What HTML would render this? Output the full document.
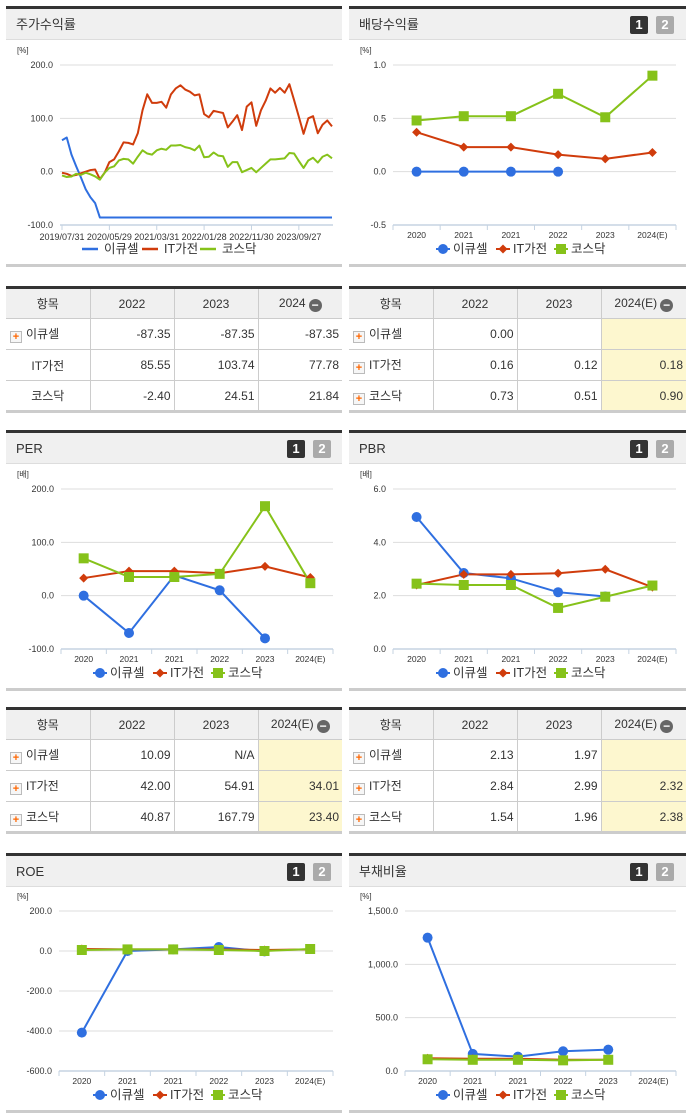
<!DOCTYPE html>
<html><head><meta charset="utf-8">
<style>
*{margin:0;padding:0;box-sizing:border-box}
body{width:691px;height:1115px;background:#fff;position:relative;overflow:hidden;font-family:"Liberation Sans","Noto Sans CJK KR",sans-serif;color:#333}
.panel{position:absolute;border-top:3px solid #333}
.hdr{height:31px;background:#f0f0f0;border-bottom:1px solid #ddd;font-size:13px;line-height:31px;padding-left:10px;position:relative;color:#333}
.b1,.b2{position:absolute;top:7px;width:18px;height:18px;font-size:13px;font-weight:bold;color:#fff;text-align:center;line-height:18px;border-radius:2px}
.b1{background:#333}.b2{background:#aaa}
.foot{position:absolute;height:3px;background:#ccc}
table{position:absolute;border-collapse:collapse;font-size:12px;table-layout:fixed;border-top:3px solid #333;border-bottom:3px solid #ccc}
td,th{border:1px solid #ccc;height:31px;font-weight:normal;white-space:nowrap;vertical-align:middle}
tr td:first-child,tr th:first-child{border-left:none}
tr td:last-child,tr th:last-child{border-right:none}
th{background:#f0f0f0;text-align:center;height:31px}
td{text-align:right;padding-right:3px}
td.n{text-align:left;padding-left:4px}
td.c{text-align:center;padding:0}
td.y{background:#fdf7cf}
.pl{display:inline-block;width:12px;height:12px;border:1px solid #bbb;background:#f6f6f6;color:#f60;font-size:11px;font-weight:bold;line-height:10px;text-align:center;vertical-align:-2px;margin-right:4px}
.mi{display:inline-block;width:13px;height:13px;border-radius:50%;background:#666;color:#fff;font-size:12px;line-height:12px;text-align:center;vertical-align:-2px;margin-left:3px;font-weight:bold}
svg text{font-family:"Liberation Sans","Noto Sans CJK KR",sans-serif}
</style></head><body>

<div class="panel" style="left:6px;top:6px;width:336px"><div class="hdr">주가수익률</div></div>
<div class="panel" style="left:349px;top:6px;width:337px"><div class="hdr">배당수익률<span class="b1" style="left:281px">1</span><span class="b2" style="left:307px">2</span></div></div>
<div class="foot" style="left:6px;top:264px;width:336px"></div><div class="foot" style="left:349px;top:264px;width:337px"></div>

<table style="left:6px;top:286px;width:336px">
<colgroup><col style="width:84px"><col style="width:84px"><col style="width:84px"><col style="width:84px"></colgroup>
<tr><th>항목</th><th>2022</th><th>2023</th><th>2024<span class="mi">−</span></th></tr>
<tr><td class="n"><span class="pl">+</span>이큐셀</td><td>-87.35</td><td>-87.35</td><td>-87.35</td></tr>
<tr><td class="c">IT가전</td><td>85.55</td><td>103.74</td><td>77.78</td></tr>
<tr><td class="c">코스닥</td><td>-2.40</td><td>24.51</td><td>21.84</td></tr>
</table>
<table style="left:349px;top:286px;width:337px">
<colgroup><col style="width:84px"><col style="width:84px"><col style="width:84px"><col style="width:85px"></colgroup>
<tr><th>항목</th><th>2022</th><th>2023</th><th>2024(E)<span class="mi">−</span></th></tr>
<tr><td class="n"><span class="pl">+</span>이큐셀</td><td>0.00</td><td></td><td class="y"></td></tr>
<tr><td class="n"><span class="pl">+</span>IT가전</td><td>0.16</td><td>0.12</td><td class="y">0.18</td></tr>
<tr><td class="n"><span class="pl">+</span>코스닥</td><td>0.73</td><td>0.51</td><td class="y">0.90</td></tr>
</table>

<div class="panel" style="left:6px;top:430px;width:336px"><div class="hdr">PER<span class="b1" style="left:281px">1</span><span class="b2" style="left:307px">2</span></div></div>
<div class="panel" style="left:349px;top:430px;width:337px"><div class="hdr">PBR<span class="b1" style="left:281px">1</span><span class="b2" style="left:307px">2</span></div></div>
<div class="foot" style="left:6px;top:688px;width:336px"></div><div class="foot" style="left:349px;top:688px;width:337px"></div>

<table style="left:6px;top:707px;width:336px">
<colgroup><col style="width:84px"><col style="width:84px"><col style="width:84px"><col style="width:84px"></colgroup>
<tr><th>항목</th><th>2022</th><th>2023</th><th>2024(E)<span class="mi">−</span></th></tr>
<tr><td class="n"><span class="pl">+</span>이큐셀</td><td>10.09</td><td>N/A</td><td class="y"></td></tr>
<tr><td class="n"><span class="pl">+</span>IT가전</td><td>42.00</td><td>54.91</td><td class="y">34.01</td></tr>
<tr><td class="n"><span class="pl">+</span>코스닥</td><td>40.87</td><td>167.79</td><td class="y">23.40</td></tr>
</table>
<table style="left:349px;top:707px;width:337px">
<colgroup><col style="width:84px"><col style="width:84px"><col style="width:84px"><col style="width:85px"></colgroup>
<tr><th>항목</th><th>2022</th><th>2023</th><th>2024(E)<span class="mi">−</span></th></tr>
<tr><td class="n"><span class="pl">+</span>이큐셀</td><td>2.13</td><td>1.97</td><td class="y"></td></tr>
<tr><td class="n"><span class="pl">+</span>IT가전</td><td>2.84</td><td>2.99</td><td class="y">2.32</td></tr>
<tr><td class="n"><span class="pl">+</span>코스닥</td><td>1.54</td><td>1.96</td><td class="y">2.38</td></tr>
</table>

<div class="panel" style="left:6px;top:853px;width:336px"><div class="hdr">ROE<span class="b1" style="left:281px">1</span><span class="b2" style="left:307px">2</span></div></div>
<div class="panel" style="left:349px;top:853px;width:337px"><div class="hdr">부채비율<span class="b1" style="left:281px">1</span><span class="b2" style="left:307px">2</span></div></div>
<div class="foot" style="left:6px;top:1110px;width:336px"></div><div class="foot" style="left:349px;top:1110px;width:337px"></div>

<svg id="charts" width="691" height="1115" style="position:absolute;left:0;top:0"></svg>

<script>
// ---- stock return (time series) ----
const dateLabels = ["2019/07/31","2020/05/29","2021/03/31","2022/01/28","2022/11/30","2023/09/27"];
const retEcucell = [59,64,32,10,-11,-33,-48,-59,-86,-86,-86,-86,-86,-86,-86,-86,-86,-86,-86,-86,-86,-86,-86,-86,-86,-86,-86,-86,-86,-86,-86,-86,-86,-86,-86,-86,-86,-86,-86,-86,-86,-86,-86,-86,-86,-86,-86,-86,-86,-86,-86,-86,-86,-86,-86,-86,-86,-86];
const retIT = [-2,-4,-8,-6,-3,0,3,4,-14,-2,18,23,38,55,54,51,72,115,145,129,129,131,120,145,156,162,154,150,143,145,108,102,114,112,110,83,94,106,78,122,130,86,115,133,156,148,157,148,164,134,103,71,100,104,72,88,96,85];
const retKosdaq = [-7,-10,-9,-4,-6,-2,-5,-9,-15,-2,7,10,21,24,23,15,28,40,34,32,40,43,41,49,49,50,46,44,40,49,27,28,36,30,29,9,18,18,-1,3,7,-1,7,15,23,23,24,25,35,34,20,7,21,26,17,28,32,25];
const retTicks = [200,100,0,-100];

// ---- category charts ----
const cats = ["2020","2021","2021","2022","2023","2024(E)"];
const divEcucell = [0,0,0,0,null,null];
const divIT = [0.37,0.23,0.23,0.16,0.12,0.18];
const divKosdaq = [0.48,0.52,0.52,0.73,0.51,0.90];
const divTicks = [1.0,0.5,0.0,-0.5];
const perEcucell = [0,-70,38,10.09,-80,null];
const perIT = [33,46,46,42,54.91,34.01];
const perKosdaq = [70,35,35,40.87,167.79,23.40];
const perTicks = [200,100,0,-100];
const pbrEcucell = [4.95,2.85,2.65,2.13,1.97,null];
const pbrIT = [2.4,2.8,2.8,2.84,2.99,2.32];
const pbrKosdaq = [2.45,2.4,2.4,1.54,1.96,2.38];
const pbrTicks = [6,4,2,0];
const roeEcucell = [-408,0,8,20,-2,null];
const roeIT = [10,8,8,8,5,8];
const roeKosdaq = [5,8,8,5,0,10];
const roeTicks = [200,0,-200,-400,-600];
const debtEcucell = [1250,160,135,185,200,null];
const debtIT = [120,115,115,105,105,null];
const debtKosdaq = [110,105,105,100,105,null];
const debtTicks = [1500,1000,500,0];
const seriesNames = ["이큐셀","IT가전","코스닥"];
const colors = ["#2f6fe0","#d03c0c","#86c21a"];

const svg = document.getElementById('charts');
const NS = 'http://www.w3.org/2000/svg';
function mk(tag, attrs, parent){const e=document.createElementNS(NS,tag);for(const k in attrs)e.setAttribute(k,attrs[k]);(parent||svg).appendChild(e);return e;}
function fmt(v, dec){let s=Math.abs(v).toFixed(1);if(dec===1500){s=Math.abs(v).toLocaleString('en-US',{minimumFractionDigits:1});}return (v<0?'-':'')+s;}

function axes(g, c){
  const y = v => c.yTop + (c.ticks[0]-v)/(c.ticks[0]-c.ticks[c.ticks.length-1])*(c.yBot-c.yTop);
  c.ticks.forEach((t,i)=>{
    const last = i===c.ticks.length-1;
    const ln = mk('line',{x1:c.x0,x2:c.x1,y1:y(t),y2:y(t),stroke:last?'#c5d3e2':'#ddd','stroke-width':last?1.5:1},g);
    
    
    const tx = mk('text',{x:c.x0-7,y:y(t)+3,'font-size':9,'text-anchor':'end',fill:'#333'},g);
    tx.textContent = fmt(t, c.comma?1500:0);
    
    
  });
  const u = mk('text',{x:c.ux,y:c.yTop-12,'font-size':8,fill:'#333'},g);
  u.textContent = c.unit;
  
  
  return y;
}

function legend(g, cx, y, type){
  const off=[-72,-12,46];
  seriesNames.forEach((n,i)=>{
    const x = cx+off[i];
    const it = mk('g',{},g);
    
    
    if(type==='line'){ mk('line',{x1:x-12,x2:x+4,y1:y,y2:y,stroke:colors[i],'stroke-width':2.5},it); }
    else { mk('line',{x1:x-7,x2:x+7,y1:y,y2:y,stroke:colors[i],'stroke-width':2},it); marker(it,i,x,y); }
    const t = mk('text',{x:x+10,y:y+4,'font-size':12.5,fill:'#333'},it); t.textContent=n;
  });
}
function marker(g,i,x,y){
  let m;
  if(i===0) m=mk('circle',{cx:x,cy:y,r:5,fill:colors[0]},g);
  else if(i===1) m=mk('path',{d:`M${x} ${y-4.5}L${x+4.5} ${y}L${x} ${y+4.5}L${x-4.5} ${y}Z`,fill:colors[1]},g);
  else m=mk('rect',{x:x-5,y:y-5,width:10,height:10,fill:colors[2]},g);
  
  
}

// time-series chart
(function(){
  const c={x0:60,x1:333,yTop:65,yBot:225,ticks:retTicks,unit:'[%]',ux:17};
  const g=mk('g',{});
  
  
  const y=axes(g,c);
  const n=retIT.length;
  const x=i=>62+i*(270/(n-1));
  dateLabels.forEach((d,k)=>{
    const xi=x(k*10);
    mk('line',{x1:xi,x2:xi,y1:225,y2:230,stroke:'#c5d3e2'},g);
    const t=mk('text',{x:xi,y:240,'font-size':9,'text-anchor':'middle',fill:'#333'},g);
    t.textContent=d;
    
    
  });
  [retEcucell,retIT,retKosdaq].forEach((s,si)=>{
    const p=mk('polyline',{points:s.map((v,i)=>x(i)+','+y(v)).join(' '),fill:'none',stroke:colors[si],'stroke-width':2,'stroke-linejoin':'round'},g);
    
    
  });
  legend(g,166,249,'line');
})();

function catChart(name,c,series){
  const g=mk('g',{});
  
  
  const y=axes(g,c);
  const bw=(c.x1-c.x0)/cats.length;
  const x=i=>c.x0+bw*(i+0.5);
  for(let i=0;i<=cats.length;i++) mk('line',{x1:c.x0+bw*i,x2:c.x0+bw*i,y1:c.yBot,y2:c.yBot+5,stroke:'#c5d3e2'},g);
  cats.forEach((l,i)=>{
    const t=mk('text',{x:x(i),y:c.yBot+13,'font-size':8.5,'text-anchor':'middle',fill:'#333'},g);
    t.textContent=l;
    
    
  });
  series.forEach((s,si)=>{
    const pts=[];s.forEach((v,i)=>{if(v!==null)pts.push(x(i)+','+y(v));});
    const p=mk('polyline',{points:pts.join(' '),fill:'none',stroke:colors[si],'stroke-width':2},g);
    
    
  });
  series.forEach((s,si)=>s.forEach((v,i)=>{if(v!==null)marker(g,si,x(i),y(v));}));
  legend(g,c.lx,c.yBot+24,'marker');
}
catChart('dividend-chart',{x0:393,x1:676,yTop:65,yBot:225,ticks:divTicks,unit:'[%]',ux:360,lx:515},[divEcucell,divIT,divKosdaq]);
catChart('per-chart',{x0:61,x1:333,yTop:489,yBot:649,ticks:perTicks,unit:'[배]',ux:17,lx:172},[perEcucell,perIT,perKosdaq]);
catChart('pbr-chart',{x0:393,x1:676,yTop:489,yBot:649,ticks:pbrTicks,unit:'[배]',ux:360,lx:515},[pbrEcucell,pbrIT,pbrKosdaq]);
catChart('roe-chart',{x0:59,x1:333,yTop:911,yBot:1071,ticks:roeTicks,unit:'[%]',ux:17,lx:172},[roeEcucell,roeIT,roeKosdaq]);
catChart('debt-chart',{x0:405,x1:676,yTop:911,yBot:1071,ticks:debtTicks,unit:'[%]',ux:360,lx:515,comma:true},[debtEcucell,debtIT,debtKosdaq]);
</script>
</body></html>
